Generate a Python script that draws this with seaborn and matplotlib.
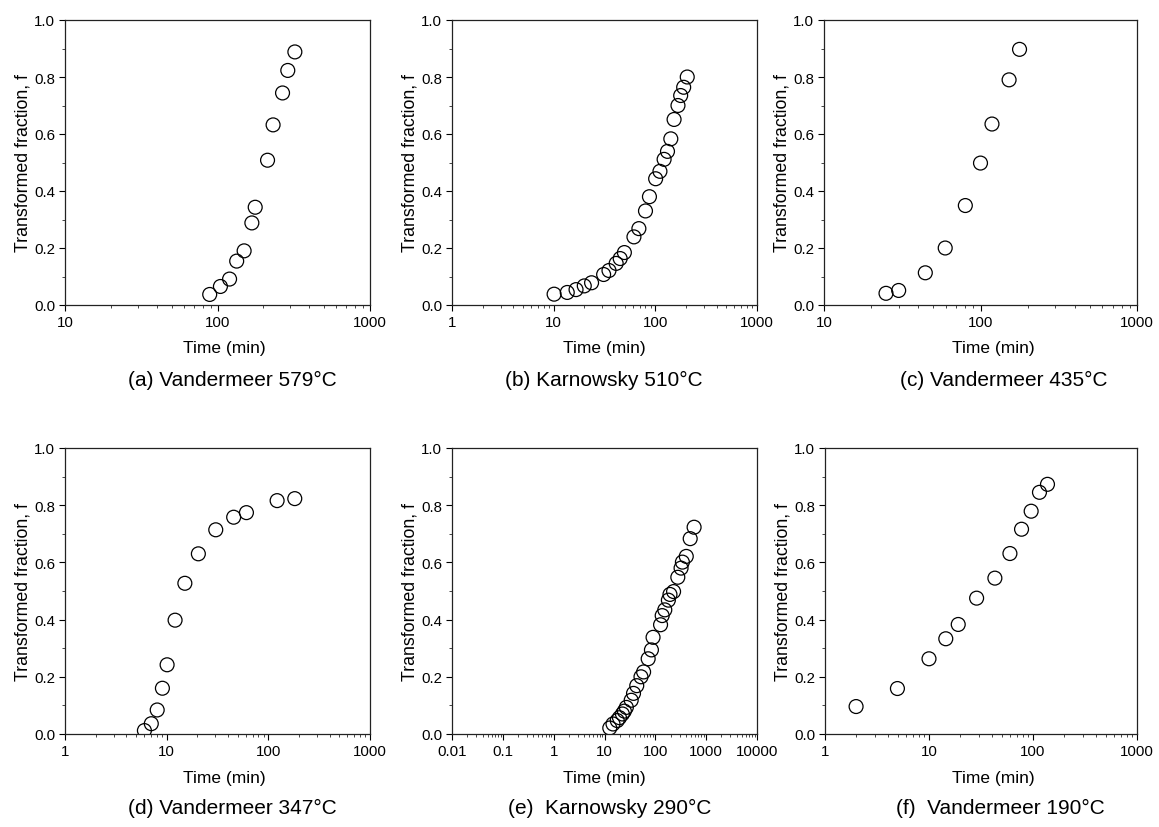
import numpy as np
import pandas as pd
import seaborn as sns
import matplotlib
matplotlib.use("Agg")
import matplotlib.pyplot as plt
from matplotlib.ticker import LogLocator, FuncFormatter, MultipleLocator, NullFormatter

sns.set_theme(style="white")
plt.rcParams['font.family'] = ['Liberation Sans', 'DejaVu Sans']
plt.rcParams['text.color'] = 'black'
plt.rcParams['axes.labelcolor'] = 'black'

# ---- data (time in min, transformed fraction f) ----
a_time = [88.9, 104.5, 120, 133.6, 149.5, 168, 176.7, 212.9, 231.5, 267, 289, 321.6]
a_frac = [0.037, 0.065, 0.091, 0.154, 0.19, 0.288, 0.343, 0.508, 0.632, 0.744, 0.823, 0.888]

b_time = [10.1, 13.6, 16.6, 20, 23.6, 31, 35, 41.2, 45.1, 49.6, 61.6, 68.9, 80, 87.5,
          100.7, 111, 122, 131.7, 142, 152.9, 167, 177.5, 190, 206]
b_frac = [0.038, 0.044, 0.054, 0.067, 0.078, 0.107, 0.121, 0.146, 0.163, 0.184, 0.239,
          0.268, 0.33, 0.38, 0.443, 0.469, 0.511, 0.539, 0.583, 0.651, 0.70, 0.735, 0.764, 0.80]

c_time = [24.9, 30, 44.4, 59.5, 80, 100, 118.4, 152.3, 177.6]
c_frac = [0.041, 0.051, 0.113, 0.2, 0.349, 0.498, 0.635, 0.79, 0.897]

d_time = [6.04, 7.06, 8.07, 9.08, 10.1, 12.1, 15.1, 20.5, 30.4, 45.6, 60.9, 122, 182]
d_frac = [0.012, 0.036, 0.084, 0.16, 0.242, 0.398, 0.527, 0.63, 0.714, 0.758, 0.774, 0.816, 0.823]

e_time = [12.7, 14.7, 17.8, 19.7, 22.5, 24.6, 26.9, 33.5, 37.2, 43.1, 52.2, 58.8, 72.3, 83.8,
          90.2, 126.7, 136.4, 153.5, 180.5, 194, 228.5, 276.8, 320.8, 340.6, 406, 485, 579]
e_frac = [0.021, 0.035, 0.047, 0.057, 0.07, 0.08, 0.093, 0.118, 0.142, 0.169, 0.2, 0.217,
          0.263, 0.294, 0.338, 0.382, 0.414, 0.434, 0.468, 0.488, 0.498, 0.548, 0.58, 0.601,
          0.621, 0.683, 0.723]

f_time = [1.99, 4.97, 10, 14.5, 19.1, 28.7, 43, 60, 77.6, 96, 115.4, 137.8]
f_frac = [0.096, 0.159, 0.263, 0.333, 0.383, 0.475, 0.545, 0.631, 0.716, 0.779, 0.845, 0.873]

captions = ["(a) Vandermeer 579°C", "(b) Karnowsky 510°C", "(c) Vandermeer 435°C",
            "(d) Vandermeer 347°C", "(e)  Karnowsky 290°C", "(f)  Vandermeer 190°C"]
xlims = [(10, 1000), (1, 1000), (10, 1000), (1, 1000), (0.01, 10000), (1, 1000)]

series = [(a_time, a_frac), (b_time, b_frac), (c_time, c_frac),
          (d_time, d_frac), (e_time, e_frac), (f_time, f_frac)]

W, H = 1159, 828
fig = plt.figure(figsize=(W / 100, H / 100), dpi=100)

# layout in pixels: left, right, top, bottom of axes
boxes = [(65, 370, 21, 306), (452, 757, 21, 306), (824, 1137, 21, 306),
         (65, 370, 449, 735), (452, 757, 449, 735), (825, 1137, 449, 735)]
cap_pos = [(232, 380), (604, 380), (1004, 380), (232, 808), (610, 808), (1000, 808)]
xlab_x = [224, 604, 993, 224, 604, 993]

def fmt(v, pos):
    return "%g" % v

for (t, f), cap, xl, (l, r, tp, bt), (cx, cy), lx in zip(series, captions, xlims, boxes,
                                                        cap_pos, xlab_x):
    ax = fig.add_axes([l / W, 1 - bt / H, (r - l) / W, (bt - tp) / H])
    df = pd.DataFrame({"time": t, "frac": f})
    sns.scatterplot(data=df, x="time", y="frac", ax=ax, marker="o", s=100,
                    facecolor="none", edgecolor="black", linewidth=0.9, zorder=3)
    ax.set_xscale("log")
    ax.set_xlim(*xl)
    ax.set_ylim(0, 1.0)
    ax.xaxis.set_major_locator(LogLocator(base=10, numticks=20))
    ax.xaxis.set_minor_locator(LogLocator(base=10, subs=np.arange(2, 10), numticks=100))
    ax.xaxis.set_major_formatter(FuncFormatter(fmt))
    ax.xaxis.set_minor_formatter(NullFormatter())
    ax.yaxis.set_major_locator(MultipleLocator(0.2))
    ax.yaxis.set_minor_locator(MultipleLocator(0.1))
    ax.yaxis.set_major_formatter(FuncFormatter(lambda v, p: "%.1f" % v))
    ax.tick_params(axis="both", which="major", direction="out", length=4, width=0.8,
                   labelsize=10.8, colors="black", bottom=True, left=True, pad=3)
    ax.tick_params(axis="both", which="minor", direction="out", length=2.5, width=0.6,
                   bottom=True, left=True)
    for sp in ax.spines.values():
        sp.set_color("#222222")
        sp.set_linewidth(0.9)
    ax.set_xlabel("Time (min)", fontsize=12.5)
    ax.set_ylabel("Transformed fraction, f", fontsize=12.8)
    ax.xaxis.set_label_coords((lx - l) / (r - l), -(349 - 306) / 285, transform=ax.transAxes)
    ax.xaxis.label.set_va("center")
    ax.yaxis.set_label_coords(-42 / (r - l), 0.5, transform=ax.transAxes)
    ax.yaxis.label.set_va("center")
    ax.set_facecolor("white")
    ax.grid(False)
    fig.text(cx / W, 1 - cy / H, cap, ha="center", va="center", fontsize=15)

fig.savefig("out.png", dpi=100, facecolor="white")
